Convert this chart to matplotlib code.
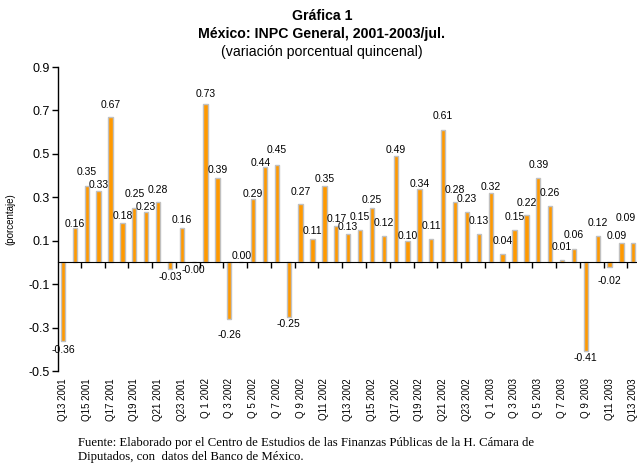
import numpy as np
import matplotlib
matplotlib.use('Agg')
import matplotlib.pyplot as plt
import math

# quincenas Q13 2001 .. Q13 2003
periods = (['Q%2d 2001' % q for q in range(13, 25)] +
           ['Q%2d 2002' % q for q in range(1, 25)] +
           ['Q%2d 2003' % q for q in range(1, 14)])
values = [-0.36, 0.16, 0.35, 0.33, 0.67, 0.18, 0.25, 0.23, 0.28, -0.03, 0.16, -0.0,
          0.73, 0.39, -0.26, 0.00, 0.29, 0.44, 0.45, -0.25, 0.27, 0.11, 0.35, 0.17,
          0.13, 0.15, 0.25, 0.12, 0.49, 0.10, 0.34, 0.11, 0.61, 0.28, 0.23, 0.13,
          0.32, 0.04, 0.15, 0.22, 0.39, 0.26, 0.01, 0.06, -0.41, 0.12, -0.02, 0.09, 0.09]
yticks = [0.9, 0.7, 0.5, 0.3, 0.1, -0.1, -0.3, -0.5]

# label distance from bar end (px) and sideways shift, to dodge neighbours as in the original
label_gap = [9, 4, 14, 6, 12, 7, 14, 5, 12, 8, 8, 8,
             10, 8, 16, 6, 5, 4, 15, 7, 12, 8, 7, 7,
             7, 13, 8, 13, 6, 5, 5, 13, 14, 12, 13, 13,
             6, 13, 13, 12, 13, 13, 13, 14, 7, 13, 14, 7, 25]
label_dx = {17: -4, 47: -5, 48: -8}

plt.rcParams['font.family'] = ['Liberation Sans', 'DejaVu Sans']

fig = plt.figure(figsize=(6.37, 4.63), dpi=100)
ax = fig.add_axes([58/637, 1 - 371/463, 1 - 58/637, (371 - 67)/463])

x = np.arange(len(values))
ax.bar(x, values, width=0.36, color='#ff9900', edgecolor='#c0c0c0', linewidth=1.0, zorder=2)

px = 72 / 100
for xi, v in zip(x, values):
    sgn = math.copysign(1, v)
    ax.annotate('%.2f' % v, (xi, v),
                xytext=(label_dx.get(xi, 0) * px, sgn * label_gap[xi] * px),
                textcoords='offset points', ha='center', va='center',
                fontsize=7.5, color='black')

ax.set_xlim(-0.42, 48.31)
ax.set_ylim(-0.5, 0.9)
ax.set_yticks(yticks)
ax.set_yticklabels(['%.1f' % t for t in yticks], fontsize=9)
ax.tick_params(axis='y', direction='out', length=4, width=1, pad=2)
ax.set_ylabel('(porcentaje)', fontsize=7)
ax.yaxis.set_label_coords(-0.074, 0.5)

# zero axis with tick marks between categories
ax.spines['top'].set_visible(False)
ax.spines['right'].set_visible(False)
ax.spines['bottom'].set_position(('data', 0))
ax.spines['left'].set_linewidth(1)
ax.set_xticks(np.arange(1.5, len(values), 2))
ax.set_xticklabels([])
ax.tick_params(axis='x', direction='out', length=4, width=1)

sec = ax.secondary_xaxis('bottom')
sec.spines['bottom'].set_visible(False)
sec.set_xticks(x[::2])
sec.set_xticklabels(periods[::2], rotation=90, fontsize=7,
                    family=['Liberation Sans Narrow', 'Liberation Sans'])
sec.tick_params(length=0, pad=5)

cx = 322 / 637
fig.text(cx, 1 - 16/463, 'Gráfica 1', ha='center', va='center', fontsize=10.2, fontweight='bold')
fig.text(cx, 1 - 34/463, 'México: INPC General, 2001-2003/jul.', ha='center', va='center',
         fontsize=10.2, fontweight='bold')
fig.text(cx, 1 - 52/463, '(variación porcentual quincenal)', ha='center', va='center', fontsize=10.2)

fig.text(78/637, 1 - 446/463, 'Fuente: Elaborado por el Centro de Estudios de las Finanzas Públicas de la H. Cámara de',
         ha='left', va='baseline', fontsize=9.2, family='Liberation Serif')
fig.text(78/637, 1 - 460/463, 'Diputados, con  datos del Banco de México.',
         ha='left', va='baseline', fontsize=9.2, family='Liberation Serif')

fig.savefig('out.png', dpi=100)
